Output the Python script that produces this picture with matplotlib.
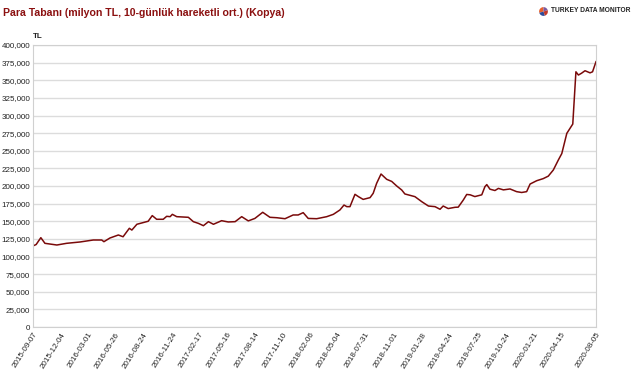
import numpy as np
import pandas as pd
import matplotlib
matplotlib.use("Agg")
import matplotlib.pyplot as plt

plt.rcParams['font.family'] = ['Liberation Sans', 'DejaVu Sans']

# para tabani, milyon TL (10 gunluk hareketli ort.)
tarihler = [
    "2015-09-07", "2015-09-17", "2015-10-02", "2015-10-15", "2015-11-22", "2015-12-23",
    "2016-02-04", "2016-03-17", "2016-04-13", "2016-04-20", "2016-05-09", "2016-06-05",
    "2016-06-20", "2016-07-10", "2016-07-18", "2016-08-03", "2016-09-08", "2016-09-21",
    "2016-10-05", "2016-10-26", "2016-11-06", "2016-11-17", "2016-11-24", "2016-12-08",
    "2017-01-14", "2017-01-30", "2017-02-15", "2017-03-03", "2017-03-19", "2017-04-04",
    "2017-04-30", "2017-05-21", "2017-06-12", "2017-07-03", "2017-07-24", "2017-08-14",
    "2017-09-08", "2017-10-01", "2017-10-23", "2017-11-18", "2017-12-14", "2017-12-30",
    "2018-01-15", "2018-01-31", "2018-02-27", "2018-03-31", "2018-04-21", "2018-05-12",
    "2018-05-25", "2018-06-03", "2018-06-13", "2018-06-29", "2018-07-10", "2018-07-25",
    "2018-08-16", "2018-08-26", "2018-09-06", "2018-09-20", "2018-10-08", "2018-10-24",
    "2018-11-09", "2018-11-25", "2018-12-05", "2019-01-06", "2019-01-28", "2019-02-18",
    "2019-03-11", "2019-03-27", "2019-04-06", "2019-04-22", "2019-05-14", "2019-05-24",
    "2019-06-09", "2019-06-20", "2019-07-01", "2019-07-16", "2019-08-07", "2019-08-17",
    "2019-08-23", "2019-09-02", "2019-09-18", "2019-09-29", "2019-10-15", "2019-11-05",
    "2019-11-26", "2019-12-12", "2019-12-28", "2020-01-08", "2020-01-29", "2020-02-19",
    "2020-03-06", "2020-03-22", "2020-04-07", "2020-04-18", "2020-05-04", "2020-05-23",
    "2020-06-02", "2020-06-10", "2020-06-20", "2020-07-01", "2020-07-17", "2020-07-25",
    "2020-08-05",
]
degerler = [
    115.0, 117.0, 126.7, 118.7, 116.3, 118.7,
    120.6, 123.4, 123.4, 121.0, 126.2, 130.5,
    128.0, 140.0, 137.5, 145.7, 150.0, 158.0,
    152.8, 152.8, 157.0, 156.5, 159.8, 156.5,
    155.6, 149.4, 147.0, 143.7, 149.4, 145.7,
    150.8, 149.0, 149.4, 156.5, 150.5, 154.0,
    162.7, 155.6, 155.0, 153.6, 158.9, 158.9,
    162.2, 154.0, 153.6, 156.5, 159.8, 166.0,
    173.0, 170.7, 170.7, 188.2, 184.9, 181.0,
    183.5, 189.6, 203.8, 217.0, 209.5, 206.5,
    200.0, 194.3, 188.7, 184.9, 177.7, 171.6,
    170.7, 167.0, 171.6, 168.0, 169.8, 170.0,
    180.0, 188.0, 187.5, 185.0, 187.5, 199.0,
    202.0, 195.5, 193.6, 196.6, 194.5, 195.8,
    192.0, 190.8, 192.0, 202.8, 207.5, 210.5,
    214.0, 222.7, 236.9, 246.0, 274.7, 287.9,
    362.0, 357.4, 360.0, 363.5, 360.5, 362.0,
    376.3,
]
etiketler = [
    "2015-09-07", "2015-12-04", "2016-03-01", "2016-05-26", "2016-08-24", "2016-11-24",
    "2017-02-17", "2017-05-16", "2017-08-14", "2017-11-10", "2018-02-06", "2018-05-04",
    "2018-07-31", "2018-11-01", "2019-01-28", "2019-04-24", "2019-07-25", "2019-10-24",
    "2020-01-21", "2020-04-15", "2020-08-05",
]

x = pd.to_datetime(tarihler)
y = np.array(degerler) * 1000

fig = plt.figure(figsize=(6.35, 3.73), dpi=100)
ax = fig.add_axes([33 / 635, 46 / 373, 563 / 635, 282 / 373])

ax.plot(x, y, color="#7a0a0a", lw=1.1)

ax.set_ylim(0, 400000)
ax.set_yticks(np.arange(0, 400001, 25000))
ax.set_yticklabels([f"{v:,}" for v in range(0, 400001, 25000)])
ax.set_xlim(x[0], x[-1])
ax.set_xticks(pd.to_datetime(etiketler))
ax.set_xticklabels(etiketler, rotation=58, ha="right", rotation_mode="anchor")

ax.grid(axis="y", color="#dcdcdc", lw=1)
ax.set_axisbelow(True)
for s in ax.spines.values():
    s.set_color("#d0d0d0")
ax.tick_params(axis="both", length=0, labelsize=5.8, colors="#222222")
ax.tick_params(axis="y", pad=2)
ax.tick_params(axis="x", pad=3)

fig.text(3 / 635, 1 - 13 / 373, "Para Tabanı (milyon TL, 10-günlük hareketli ort.) (Kopya)",
         color="#8b1010", fontsize=7.6, fontweight="bold", va="center")
fig.text(33 / 635, 1 - 37 / 373, "TL", fontsize=5.8, fontweight="bold", color="#222222", va="center")

# logo
lax = fig.add_axes([538 / 635, 1 - 17 / 373, 11 / 635, 11 / 373])
lax.pie([30, 25, 25, 20], colors=["#e8602c", "#2c4a9a", "#c0392b", "#7a5aa0"], startangle=90)
lax.set_aspect("equal")
fig.text(551 / 635, 1 - 11 / 373, "TURKEY DATA MONITOR", fontsize=4.8, fontweight="bold",
         color="#222222", va="center")

fig.savefig("out.png", dpi=100)
